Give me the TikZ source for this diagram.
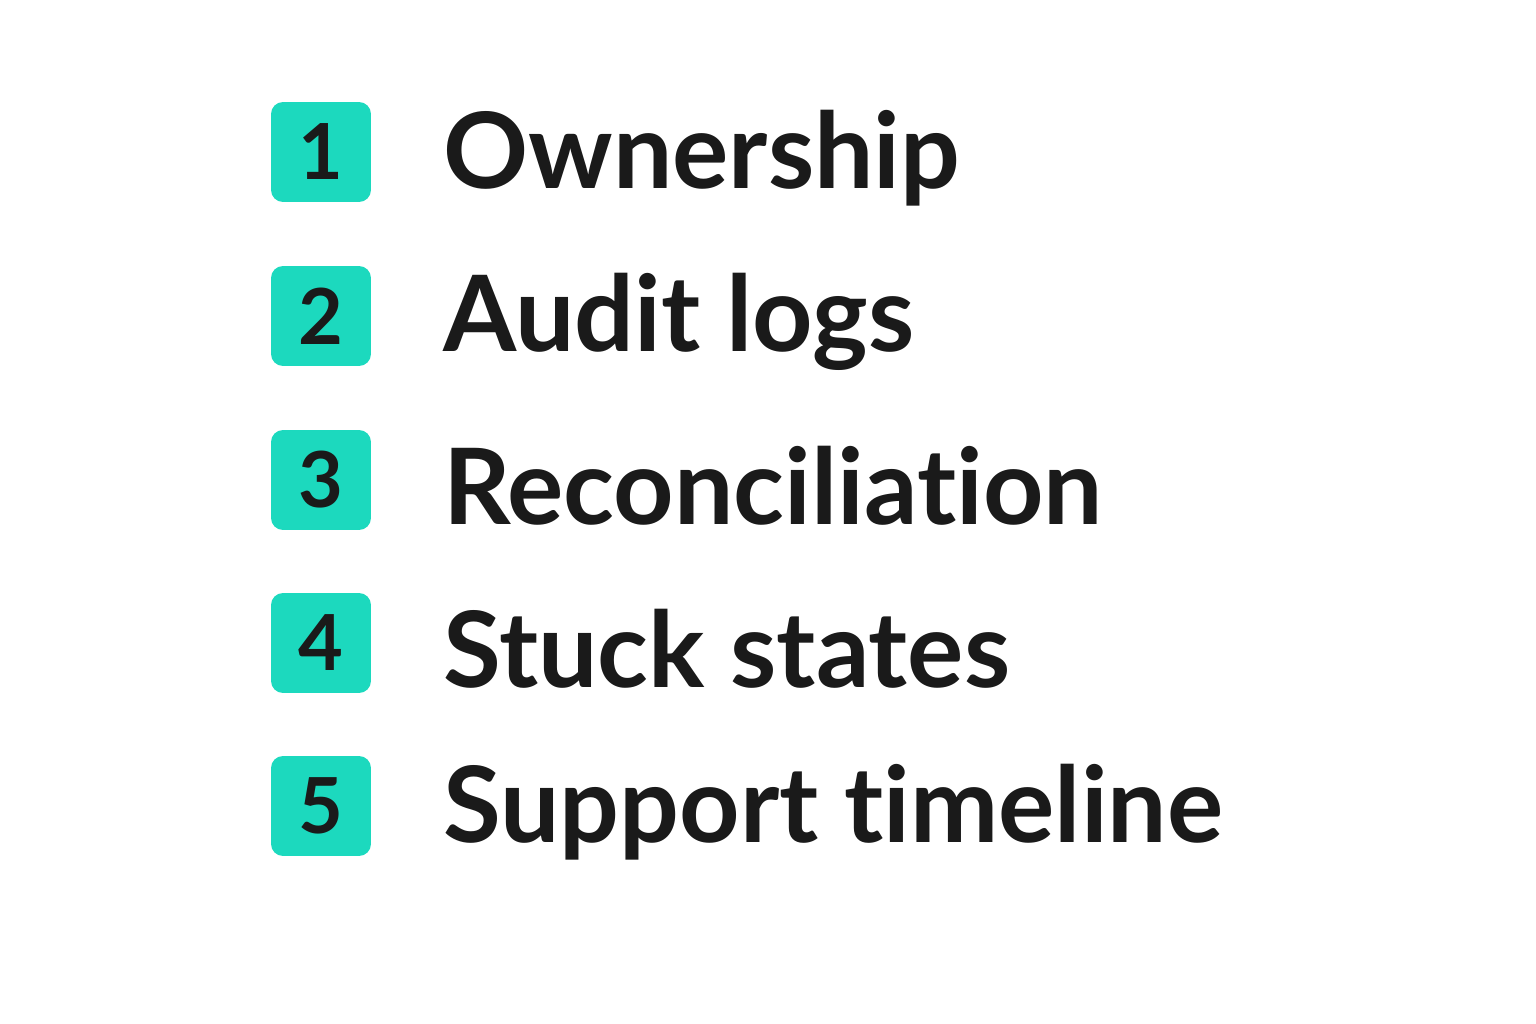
\documentclass[tikz,border=0pt]{standalone}
\usepackage{fontspec}
\setmainfont{Lato}[RawFeature={-liga,-dlig}]
\usepackage{tikz}
\usetikzlibrary{positioning}
\definecolor{teal}{HTML}{1CD9BE}
\definecolor{ink}{HTML}{1A1A1A}

\begin{document}
\begin{tikzpicture}[x=0.02cm,y=-0.02cm,
    numbox/.style={fill=teal, rounded corners=0.24cm, minimum size=2cm,
                   inner sep=0pt, text=ink, font=\fontsize{44}{44}\selectfont\bfseries},
    itemlabel/.style={anchor=west, inner sep=0pt, text=ink,
                      font=\fontsize{60}{60}\selectfont\bfseries}]
    \useasboundingbox (0,0) rectangle (1536,1024);
    \foreach \n/\y/\t in {1/152/Ownership, 2/316/Audit logs,
                          3/480/Reconciliation, 4/643/Stuck states,
                          5/806/Support timeline} {
        \node[numbox] (box\n) at (321,\y) {\n};
        \node[itemlabel] (item\n) at (443,\y+6) {\t};
    }
\end{tikzpicture}
\end{document}
